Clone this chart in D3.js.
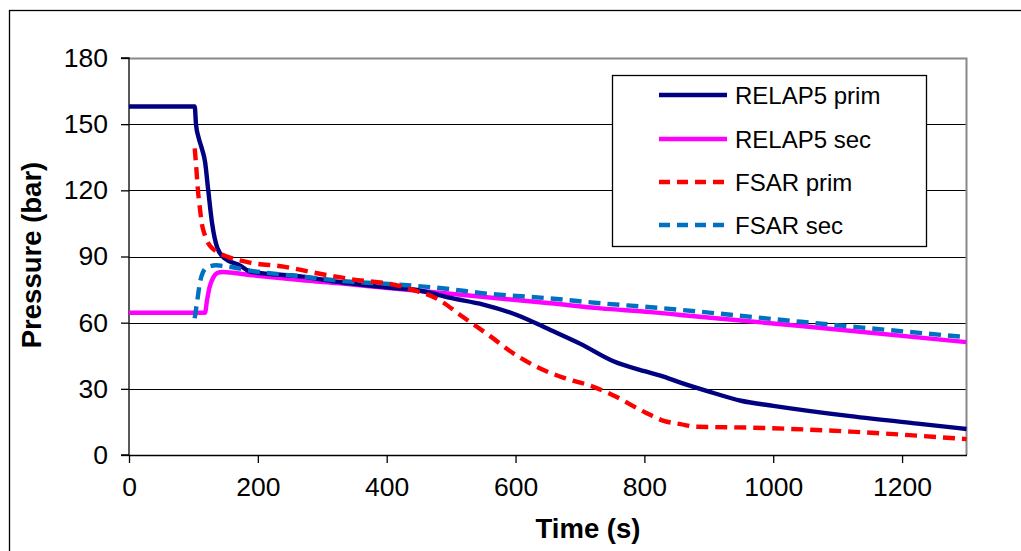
<!DOCTYPE html>
<html><head><meta charset="utf-8">
<script src="https://cdn.jsdelivr.net/npm/d3@7/dist/d3.min.js"></script>
<style>body{margin:0;background:#fff;} text{font-family:"Liberation Sans",Arial,sans-serif;}</style>
</head><body>
<svg id="chart" width="1021" height="551"></svg>
<script>
// ---- data ----
const xTicks = [0, 200, 400, 600, 800, 1000, 1200];
const yTicks = [0, 30, 60, 90, 120, 150, 180];
const seriesNames = ["RELAP5 prim", "RELAP5 sec", "FSAR prim", "FSAR sec"];

const relapPrimT = [0, 102, 104, 108, 113, 118, 123, 129, 137, 149, 172, 188, 266, 343, 400, 447, 499, 550, 602, 654, 700, 752, 800, 825, 856, 903, 950, 1000, 1120, 1224, 1300];
const relapPrimP = [158, 158, 150, 144, 139, 133, 120, 105, 94, 89, 86, 83.2, 81, 77.8, 76, 74.8, 71.2, 68.2, 63.5, 56.7, 50.5, 42.5, 38, 36, 32.8, 28.5, 24.6, 22.3, 17.6, 14.2, 11.8];

const relapSecT = [0, 118, 121, 125, 130, 137, 145, 188, 266, 343, 390, 499, 654, 732, 810, 856, 1043, 1300];
const relapSecP = [64.5, 64.5, 70, 76, 80, 82.5, 83, 81.6, 79.3, 77.4, 76, 73.1, 68.8, 66.5, 64.8, 63.5, 58.5, 51.2];

const fsarPrimT = [102, 104, 107, 110, 113, 118, 123, 130, 137, 152, 188, 240, 292, 343, 421, 450, 470, 483, 514, 560, 597, 640, 675, 720, 752, 800, 830, 856, 880, 965, 1120, 1300];
const fsarPrimP = [139, 132, 120, 112, 105, 99.5, 96, 93.5, 92, 90, 87.2, 85.4, 82.4, 79.8, 76.6, 74, 72, 70, 63.5, 54, 46, 39, 35, 31, 27, 19.5, 15.5, 14, 12.8, 12.4, 10.6, 7.2];

const fsarSecT = [102, 106, 110, 115, 121, 135, 150, 188, 266, 343, 390, 499, 545, 654, 732, 810, 1043, 1300];
const fsarSecP = [62, 70, 78, 83, 85, 86, 85.6, 83.6, 81, 78.6, 77.8, 75.2, 73.5, 71, 68.8, 67, 60.4, 53.4];

const colors = ["#000080", "#FF00FF", "#FF0000", "#0070C0"];
const dashes = [null, null, "12,7", "12,7"];

// ---- layout ----
const svg = d3.select("#chart");
const x = d3.scaleLinear().domain([0, 1300]).range([129, 966.5]);
const y = d3.scaleLinear().domain([0, 180]).range([455, 58]);

// outer frame
svg.append("rect").attr("x", 9.5).attr("y", 10.5).attr("width", 1100).attr("height", 700)
  .attr("fill", "none").attr("stroke", "#000").attr("stroke-width", 1.3);

// gridlines
svg.append("g").selectAll("line").data(yTicks.filter(d => d > 0 && d < 180)).join("line")
  .attr("x1", x(0)).attr("x2", x(1300)).attr("y1", d => Math.round(y(d)) + 0.5).attr("y2", d => Math.round(y(d)) + 0.5)
  .attr("stroke", "#000").attr("stroke-width", 1);

// plot border top & right (gray)
svg.append("path")
  .attr("d", `M${x(0)},${Math.round(y(180)) + 0.5}H${x(1300)}V${y(0)}`)
  .attr("fill", "none").attr("stroke", "#888").attr("stroke-width", 2);

// axes
const yAxis = d3.axisLeft(y).tickValues(yTicks).tickSize(8).tickPadding(13).tickFormat(d3.format("d"));
const gy = svg.append("g").attr("transform", `translate(${x(0)},0)`).call(yAxis);
const xAxis = d3.axisBottom(x).tickValues(xTicks).tickSize(8).tickPadding(14).tickSizeOuter(0).tickFormat(d3.format("d"));
const gx = svg.append("g").attr("transform", `translate(0,${y(0)})`).call(xAxis);
[gx, gy].forEach(g => {
  g.select(".domain").attr("stroke", "#000").attr("stroke-width", 1.3);
  g.selectAll(".tick line").attr("stroke", "#000").attr("stroke-width", 1.3);
  g.selectAll(".tick text").attr("font-size", 26.5).attr("fill", "#000")
    .style("font-family", "'Liberation Sans', Arial, sans-serif");
});
gy.select(".domain").attr("d", `M-8,${y(180)}H0V${y(0)}H-8`);

// axis titles
svg.append("text").attr("x", 588).attr("y", 538).attr("text-anchor", "middle")
  .attr("font-size", 27.5).attr("font-weight", "bold").text("Time (s)");
svg.append("text").attr("transform", `translate(41,255) rotate(-90)`).attr("text-anchor", "middle")
  .attr("font-size", 27.5).attr("font-weight", "bold").text("Pressure (bar)");

// lines
const seriesT = [relapPrimT, relapSecT, fsarPrimT, fsarSecT];
const seriesP = [relapPrimP, relapSecP, fsarPrimP, fsarSecP];
const line = d3.line().x(d => x(d[0])).y(d => y(d[1])).curve(d3.curveMonotoneX);
const drawOrder = [1, 0, 3, 2];
drawOrder.forEach(i => {
  const pts = seriesT[i].map((t, k) => [t, seriesP[i][k]]);
  svg.append("path").attr("d", line(pts)).attr("fill", "none")
    .attr("stroke", colors[i]).attr("stroke-width", 4.4)
    .attr("stroke-dasharray", dashes[i]).attr("stroke-linejoin", "round");
});

// legend
const lg = svg.append("g");
lg.append("rect").attr("x", 612.5).attr("y", 75.5).attr("width", 314).attr("height", 171)
  .attr("fill", "#fff").attr("stroke", "#000").attr("stroke-width", 1.3);
const legY = [95, 139, 182, 225];
seriesNames.forEach((n, i) => {
  lg.append("line").attr("x1", 659).attr("x2", 727).attr("y1", legY[i]).attr("y2", legY[i])
    .attr("stroke", colors[i]).attr("stroke-width", 4.4).attr("stroke-dasharray", dashes[i] ? "11,7" : null);
  lg.append("text").attr("x", 735).attr("y", legY[i]).attr("dy", "0.36em")
    .attr("font-size", 24).attr("fill", "#000").text(n);
});
</script>
</body></html>
